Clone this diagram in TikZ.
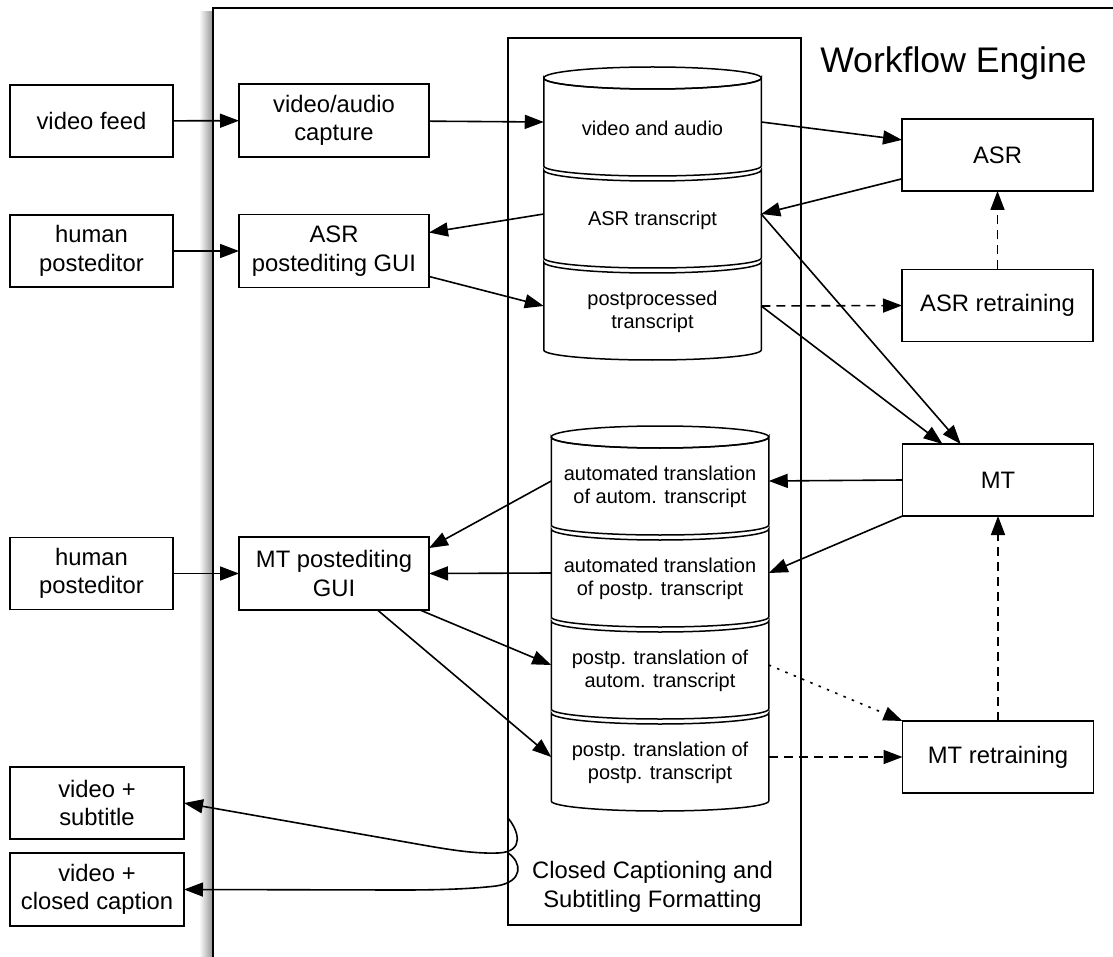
\documentclass[tikz,border=0pt]{standalone}
\usepackage{fontspec}
\setmainfont{Liberation Sans}
\usetikzlibrary{arrows.meta,positioning}

\begin{document}
\begin{tikzpicture}[x=1pt,y=1pt,
	box/.style={draw,line width=1.7pt,outer sep=0pt,inner sep=2pt,align=center,font=\fontsize{23.8}{28.5}\selectfont},
	outbox/.style={box,minimum width=163pt,minimum height=72pt},
	inbox/.style={box,minimum width=190pt,minimum height=73pt},
	rbox/.style={box,minimum width=191pt,minimum height=72pt},
	seg/.style={minimum width=217.5pt,minimum height=88pt,inner sep=0pt,outer sep=0pt},
	segtxt/.style={yshift=-6pt,align=center,font=\fontsize{20}{23.5}\selectfont},
	cylline/.style={line width=1.5pt},
	conn/.style={line width=1.6pt,-{Triangle[length=19pt,width=14pt]}},
	dashline/.style={conn,dash pattern=on 9pt off 6pt},
	dotline/.style={conn,dash pattern=on 2.5pt off 6.5pt}]
	\useasboundingbox (0,0) rectangle (1113,-957);

	\shade[left color=white,right color=black!40] (199,-12) rectangle (212.2,-957);
	\draw[line width=1.7pt] (1120,-8) -- (213,-8) -- (213,-965);
	\node[font=\fontsize{35.6}{40}\selectfont,anchor=base] (wfe) at (953.5,-73) {Workflow Engine};

	\node[draw,line width=1.7pt,outer sep=0pt,minimum width=293pt,minimum height=887pt] (ccbox) at (654.5,-481.5) {};
	\node[box,draw=none] (ccf) at (652.5,-887) {Closed Captioning and\\Subtitling Formatting};

	\node[outbox] (vfeed) at (91.5,-121) {video feed};
	\node[outbox] (hpe1) at (91.5,-251) {human\\posteditor};
	\node[outbox] (hpe2) at (91.5,-573.5) {human\\posteditor};
	\node[box,minimum width=174pt,minimum height=72pt] (vsub) at (97,-803) {video +\\subtitle};
	\node[box,minimum width=174pt,minimum height=73pt] (vcc) at (97,-889.5) {video +\\closed caption};

	\node[inbox] (vacap) at (334,-120.5) {video/audio\\capture};
	\node[inbox] (asrgui) at (334,-251) {ASR\\postediting GUI};
	\node[inbox] (mtgui) at (334,-573.5) {MT postediting\\GUI};

	\node[rbox] (asr) at (997.5,-155) {ASR};
	\node[rbox] (asrrt) at (997.5,-305.5) {ASR retraining};
	\node[rbox] (mt) at (998,-480) {MT};
	\node[rbox] (mtrt) at (998,-757) {MT retraining};

	\node[seg,label={[segtxt]center:video and audio}] (vidaud) at (652.5,-122) {};
	\node[seg,below=4pt of vidaud,label={[segtxt]center:ASR transcript}] (asrtr) {};
	\node[seg,below=4pt of asrtr,label={[segtxt]center:{postprocessed\\transcript}}] (pptr) {};

	\node[seg,label={[segtxt]center:{automated translation\\of autom. transcript}}] (atat) at (660,-481) {};
	\node[seg,below=4pt of atat,label={[segtxt]center:{automated translation\\of postp. transcript}}] (atpt) {};
	\node[seg,below=4pt of atpt,label={[segtxt]center:{postp. translation of\\autom. transcript}}] (ptat) {};
	\node[seg,below=4pt of ptat,label={[segtxt]center:{postp. translation of\\postp. transcript}}] (ptpt) {};

	\foreach \s in {vidaud,asrtr,pptr,atat,atpt,ptat,ptpt}
		\draw[cylline] (\s.north west) -- (\s.south west) arc[start angle=180,end angle=360,x radius=108.75pt,y radius=10pt] -- (\s.north east) arc[start angle=0,end angle=-180,x radius=108.75pt,y radius=11pt] -- cycle;
	\foreach \s in {vidaud,atat}
		\draw[cylline] (\s.north) ellipse[x radius=108.75pt,y radius=11pt];

	\draw[conn] (vfeed) -- (vacap);
	\draw[conn] (vacap) -- (vidaud.west);
	\draw[conn] (vidaud.east) -- (asr.171);
	\draw[conn] (asr.194) -- (asrtr.east);
	\draw[conn] (asrtr.west) -- (asrgui.11);
	\draw[conn] (hpe1) -- (asrgui);
	\draw[conn] (asrgui.-15) -- (pptr.west);
	\draw[dashline] (pptr.east) -- (asrrt.west);
	\draw[dashline] (asrrt) -- (asr);
	\draw[conn] (asrtr.east) -- (mt.136);
	\draw[conn] (pptr.east) -- (mt.147);

	\draw[conn] (mt.west) -- (atat.east);
	\draw[conn] (mt.south west) -- (atpt.east);
	\draw[conn] (atat.west) -- (mtgui.15);
	\draw[conn] (atpt.west) -- (mtgui.east);
	\draw[conn] (hpe2) -- (mtgui);
	\draw[conn] (mtgui.-23) -- (ptat.west);
	\draw[conn] (mtgui.-40) -- (ptpt.west);
	\draw[dotline] (ptat.east) -- (mtrt.north west);
	\draw[dashline] (ptpt.east) -- (mtrt.west);
	\draw[dashline] (mtrt) -- (mt);

	\coordinate (ccA) at (ccbox.west |- 0,-818);
	\coordinate (ccB) at (ccbox.west |- 0,-853);
	\draw[conn] (ccA) .. controls (518,-830) and (526,-852) .. (498,-853) .. controls (470,-854) and (440,-848) .. (400,-841) -- (vsub.east);
	\draw[conn] (ccB) .. controls (522,-862) and (524,-882) .. (496,-886) .. controls (470,-889) and (440,-890) .. (400,-890) -- (vcc.east);
\end{tikzpicture}
\end{document}
